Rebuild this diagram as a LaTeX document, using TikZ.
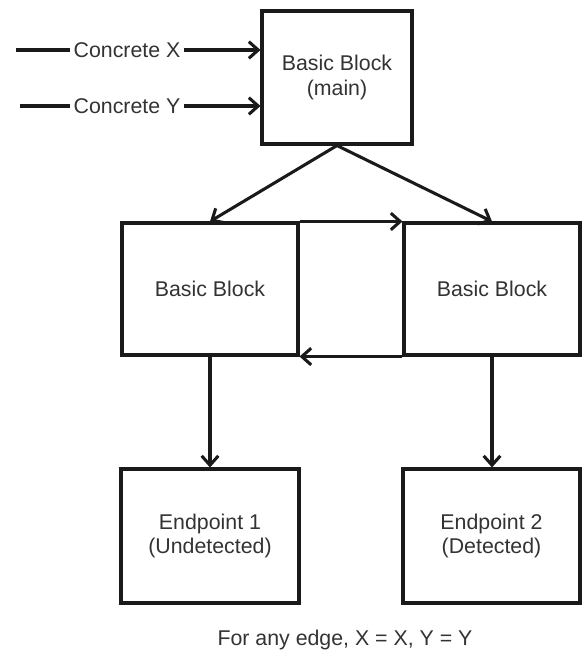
\documentclass[tikz,border=0pt]{standalone}
\usepackage{fontspec}
\setmainfont{Liberation Sans}
\usetikzlibrary{arrows.meta}
\definecolor{txt}{HTML}{333333}
\definecolor{ln}{HTML}{1a1a1a}
\begin{document}
\begin{tikzpicture}[x=0.75pt,y=-0.75pt,
  blk/.style={draw=ln,line width=2.3pt,fill=white,inner sep=0pt,text=txt,align=center,font=\fontsize{16}{18.5}\selectfont},
  lbl/.style={inner sep=2.5pt,text=txt,font=\fontsize{16}{18.5}\selectfont},
  conn/.style={draw=ln,line width=2.3pt,-{Straight Barb[length=7pt,width=12.5pt,line width=2.3pt]}},
  plain/.style={draw=ln,line width=2.3pt}]
\useasboundingbox (0,0) rectangle (582,651);
\node[blk,minimum width=112.5pt,minimum height=99.75pt] (main) at (337,77.5) {Basic Block\\(main)};
\node[blk,minimum width=132pt,minimum height=99pt] (bl) at (210,289) {Basic Block};
\node[blk,minimum width=132pt,minimum height=99pt] (br) at (492,289) {Basic Block};
\node[blk,minimum width=133.5pt,minimum height=100.5pt] (e1) at (210,536) {Endpoint 1\\(Undetected)};
\node[blk,minimum width=132.75pt,minimum height=100.5pt] (e2) at (491.5,536) {Endpoint 2\\(Detected)};
\node[lbl] (cx) at (127,50) {Concrete X};
\node[lbl] (cy) at (127,106) {Concrete Y};
\coordinate (sx) at (16,50);
\coordinate (sy) at (20,106);
\draw[plain] (sx) -- (cx.west);
\draw[plain] (sy) -- (cy.west);
\draw[conn] (cx.east) -- (main.west |- cx);
\draw[conn] (cy.east) -- (main.west |- cy);
\draw[conn] (main.south) -- (bl.north);
\draw[conn] (main.south) -- (br.north);
\draw[conn] (bl.north east) -- (br.north west);
\draw[conn] (br.south west) -- (bl.south east);
\draw[conn] (bl.south) -- (e1.north);
\draw[conn] (br.south) -- (br.south |- e2.north);
\node[lbl] (note) at (345,640) {For any edge, X = X, Y = Y};
\end{tikzpicture}
\end{document}
